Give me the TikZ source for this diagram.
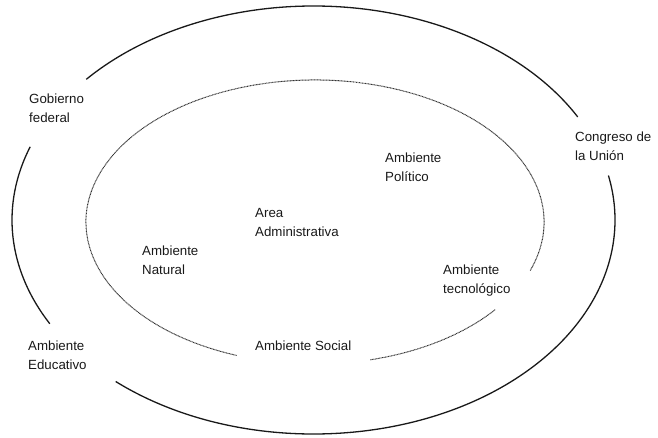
\documentclass[tikz,border=0pt]{standalone}
\usepackage{fontspec}
\setmainfont{Liberation Sans}
\begin{document}
\begin{tikzpicture}[x=1pt,y=1pt,
  lbl/.style={anchor=west,align=left,inner sep=0pt,text=black!90,font=\fontsize{13.3}{19}\selectfont},
  outerring/.style={line width=1.3pt,draw=black!90},
  innerring/.style={line width=1pt,draw=black!80,dash pattern=on 0.9pt off 0.6pt}]
\useasboundingbox (0,0) rectangle (658,438);
\coordinate (oc) at (313.5,218);
\coordinate (ic) at (315,216);
% outer ring arcs
\draw[outerring] (oc) ++(28.8:301.5 and 214) arc[start angle=28.8,end angle=138.9,x radius=301.5,y radius=214];
\draw[outerring] (oc) ++(160:301.5 and 214) arc[start angle=160,end angle=209,x radius=301.5,y radius=214];
\draw[outerring] (oc) ++(229:301.5 and 214) arc[start angle=229,end angle=372,x radius=301.5,y radius=214];
% inner dotted ring arcs
\draw[innerring] (ic) ++(-20:229 and 142) arc[start angle=-20,end angle=250,x radius=229,y radius=142];
\draw[innerring] (ic) ++(284:229 and 142) arc[start angle=284,end angle=322,x radius=229,y radius=142];
% labels
\node[lbl] (gob) at (29,329.5) {Gobierno\\federal};
\node[lbl] (cong) at (575,292) {Congreso de\\la Unión};
\node[lbl] (educ) at (28,83) {Ambiente\\Educativo};
\node[lbl] (natural) at (142,177.5) {Ambiente\\Natural};
\node[lbl] (area) at (255,216) {Area\\Administrativa};
\node[lbl] (social) at (255,92) {Ambiente Social};
\node[lbl] (politico) at (385,271) {Ambiente\\Político};
\node[lbl] (tecno) at (443,157) {Ambiente\\tecnológico};
\end{tikzpicture}
\end{document}
